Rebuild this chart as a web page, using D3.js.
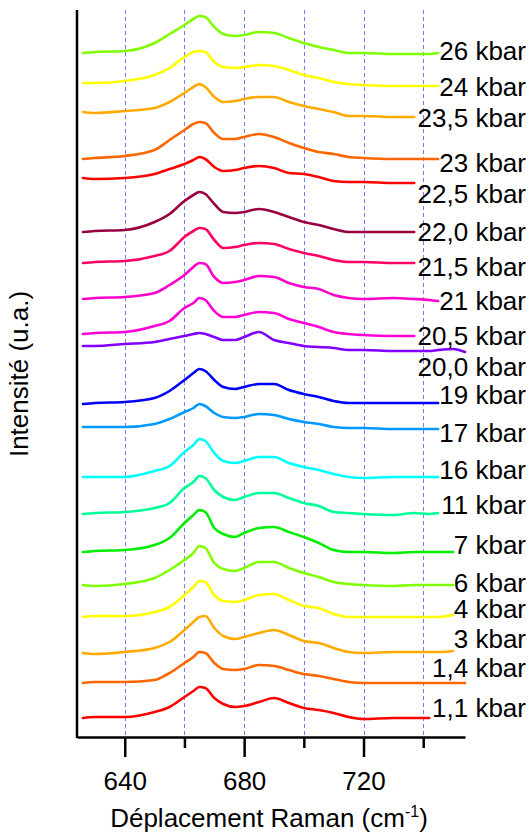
<!DOCTYPE html>
<html>
<head>
<meta charset="utf-8">
<script src="https://cdn.jsdelivr.net/npm/d3@7"></script>
<style>
  html, body { margin: 0; padding: 0; background: #fff; }
  svg { display: block; }
  text { font-family: "Liberation Sans", Arial, sans-serif; fill: #000; }
</style>
</head>
<body>
<svg id="chart" width="531" height="834"></svg>
<script>
// Raman shift sampling (cm-1)
const wavenumbers = [626, 630, 640, 650, 655, 660, 663, 665, 667, 670, 673, 677, 680, 685, 690, 695, 700, 705, 710, 715, 720, 730, 737, 742, 745, 750, 754];

// Pressure labels, top trace first
const pressures = ["26 kbar", "24 kbar", "23,5 kbar", "23 kbar", "22,5 kbar", "22,0 kbar", "21,5 kbar", "21 kbar", "20,5 kbar", "20,0 kbar",
                   "19 kbar", "17 kbar", "16 kbar", "11 kbar", "7 kbar", "6 kbar", "4 kbar", "3 kbar", "1,4 kbar", "1,1 kbar"];

// Stacked spectra (intensity, arbitrary units, offsets included); null = not recorded
const spec26  = [684, 685, 686, 694, 703, 712, 718, 721, 720, 710, 703, 701, 702, 705, 704, 699, 694, 690, 687, 684, 684, 683, 683, 683, 684, null, null];
const spec24  = [654, 654, 656, 662, 669, 680, 685, 686, 685, 675, 670, 669, 670, 672, 671, 667, 662, 659, 655, 653, 652, 651, 651, 651, 651, null, null];
const spec235 = [625, 624, 626, 629, 635, 644, 650, 653, 650, 640, 635, 636, 638, 640, 640, 635, 631, 628, 625, 621, 621, 620, 620, null, null, null, null];
const spec23  = [578, 579, 581, 587, 597, 607, 613, 615, 614, 604, 598, 598, 600, 603, 600, 594, 589, 585, 583, 580, 579, 578, 578, 578, 578, null, null];
const spec225 = [559, 558, 559, 563, 568, 573, 577, 580, 578, 570, 566, 567, 569, 571, 569, 564, 563, 560, 556, 555, 555, 554, 554, null, null, null, null];
const spec220 = [505, 506, 507, 515, 523, 536, 542, 545, 543, 533, 525, 524, 525, 528, 525, 520, 515, 512, 508, 505, 505, 505, 505, null, null, null, null];
const spec215 = [474, 475, 476, 481, 486, 500, 506, 509, 508, 497, 489, 490, 492, 494, 493, 488, 484, 481, 477, 475, 475, 474, 474, null, null, null, null];
const spec21  = [438, 439, 440, 444, 452, 462, 470, 474, 473, 460, 454, 455, 457, 461, 460, 454, 450, 448, 442, 439, 438, 439, 438, 437, 436, null, null];
const spec205 = [403, 404, 405, 411, 416, 429, 434, 439, 437, 426, 420, 420, 422, 425, 424, 418, 414, 410, 405, 403, 402, 401, 401, null, null, null, null];
const spec200 = [391, 391, 393, 395, 398, 401, 403, 404, 403, 400, 397, 397, 400, 405, 397, 394, 391, 390, 389, 387, 387, 386, 386, 386, 387, 388, 385];
const spec19  = [333, 334, 335, 339, 346, 357, 364, 368, 366, 357, 350, 348, 350, 353, 353, 347, 343, 340, 336, 334, 334, 334, 334, 334, 334, null, null];
const spec17  = [310, 310, 310, 313, 318, 325, 329, 333, 331, 324, 320, 319, 320, 323, 322, 318, 315, 313, 310, 309, 309, 308, 308, 308, 308, null, null];
const spec16  = [260, 260, 260, 266, 271, 285, 292, 298, 296, 284, 276, 274, 276, 280, 280, 274, 270, 267, 263, 260, 259, 260, 260, 260, 260, null, null];
const spec11  = [223, 224, 225, 229, 234, 249, 255, 261, 259, 247, 240, 237, 240, 244, 244, 239, 234, 231, 225, 224, 223, 222, 224, 223, 224, null, null];
const spec7   = [185, 186, 187, 192, 199, 214, 222, 227, 225, 209, 203, 200, 204, 209, 210, 205, 200, 194, 187, 185, 185, 184, 185, 185, 185, 185, null];
const spec6   = [152, 151, 153, 159, 167, 177, 184, 191, 189, 174, 168, 166, 169, 175, 175, 169, 164, 160, 155, 153, 152, 151, 152, 152, 152, 152, null];
const spec4   = [120, 121, 121, 125, 130, 142, 150, 156, 155, 142, 136, 135, 137, 142, 143, 137, 131, 129, 123, 120, 120, 120, 120, 120, 120, 122, null];
const spec3   = [84, 83, 85, 89, 95, 107, 115, 120, 121, 109, 101, 98, 100, 104, 107, 102, 96, 94, 89, 85, 84, 85, 85, 85, 85, 86, null];
const spec14  = [54, 55, 55, 57, 64, 74, 80, 85, 84, 74, 68, 67, 68, 72, 71, 67, 63, 61, 58, 55, 54, 54, 54, 54, 54, 54, 54];
const spec11b = [19, 20, 20, 25, 30, 40, 46, 50, 49, 39, 33, 30, 31, 35, 39, 34, 29, 27, 24, 20, 18, 19, 19, 19, null, null, null];

const spectra = [spec26, spec24, spec235, spec23, spec225, spec220, spec215, spec21, spec205, spec200,
                 spec19, spec17, spec16, spec11, spec7, spec6, spec4, spec3, spec14, spec11b];

const colors = ["#80ff00", "#ffff00", "#ffaa00", "#ff6600", "#ff0000", "#990040", "#ff0066", "#ff00cc", "#ff00d8", "#8000ff",
                "#0000ff", "#0099ff", "#00ffff", "#00ff99", "#00ee00", "#80ff00", "#ffff00", "#ffaa00", "#ff6600", "#ff0000"];

const majorTicks = [640, 680, 720];
const minorTicks = [660, 700, 740];

// Vertical nudge (px) of each pressure label relative to the end of its trace
const labelNudge = [-2, 1, 1, 3.5, 11, 0, 4, 0, 0, 15, -8, 4, -7, -8, -7, -2.5, -6, -12, -15, -10];

const svg = d3.select("#chart");

const x = d3.scaleLinear().domain([624, 754]).range([77, 465]);
const y = d3.scaleLinear().domain([0, 727]).range([737, 10]);

// dashed vertical guides
svg.append("g")
  .selectAll("line")
  .data(majorTicks.concat(minorTicks))
  .join("line")
  .attr("x1", d => Math.round(x(d)) + 0.5)
  .attr("x2", d => Math.round(x(d)) + 0.5)
  .attr("y1", y(727))
  .attr("y2", y(0))
  .attr("stroke", "#7a7aff")
  .attr("stroke-width", 1)
  .attr("stroke-dasharray", "4,3");

// spectra
const line = d3.line()
  .defined(d => d[1] !== null)
  .x(d => x(d[0]))
  .y(d => y(d[1]))
  .curve(d3.curveMonotoneX);

svg.append("g")
  .selectAll("path")
  .data(spectra)
  .join("path")
  .attr("d", s => line(s.map((v, i) => [wavenumbers[i], v])))
  .attr("fill", "none")
  .attr("stroke", (s, i) => colors[i])
  .attr("stroke-width", 2.6)
  .attr("stroke-linejoin", "round")
  .attr("stroke-linecap", "round");

// pressure labels
svg.append("g")
  .selectAll("text")
  .data(spectra)
  .join("text")
  .attr("x", 526)
  .attr("y", (s, i) => {
    const last = s.filter(v => v !== null).pop();
    return y(last) + labelNudge[i] + 9.3;
  })
  .attr("text-anchor", "end")
  .attr("font-size", 26)
  .text((s, i) => pressures[i]);

// x axis: labelled major ticks, short minor ticks
const axisMajor = d3.axisBottom(x).tickValues(majorTicks).tickSize(20).tickSizeOuter(0).tickPadding(15).tickFormat(d3.format("d"));
const axisMinor = d3.axisBottom(x).tickValues(minorTicks).tickSize(11).tickSizeOuter(0).tickFormat("");

const gx = svg.append("g").attr("transform", `translate(0,${y(0)})`).call(axisMajor);
gx.select(".domain").attr("stroke", "#000").attr("stroke-width", 2.5);
gx.selectAll(".tick line").attr("stroke", "#000").attr("stroke-width", 2.5);
gx.selectAll(".tick text").attr("font-size", 26).attr("font-family", "Liberation Sans, Arial, sans-serif").attr("fill", "#000");

const gm = svg.append("g").attr("transform", `translate(0,${y(0)})`).call(axisMinor);
gm.select(".domain").remove();
gm.selectAll(".tick line").attr("stroke", "#000").attr("stroke-width", 2.5);

// y axis line (no ticks)
svg.append("line")
  .attr("x1", x(624)).attr("x2", x(624))
  .attr("y1", y(727)).attr("y2", y(0) + 1)
  .attr("stroke", "#000").attr("stroke-width", 2.5);

// axis titles
svg.append("text")
  .attr("transform", `translate(28,374) rotate(-90)`)
  .attr("text-anchor", "middle")
  .attr("font-size", 26)
  .text("Intensité (u.a.)");

const xt = svg.append("text")
  .attr("x", 269)
  .attr("y", 827)
  .attr("text-anchor", "middle")
  .attr("font-size", 26);
xt.append("tspan").text("Déplacement Raman (cm");
xt.append("tspan").attr("font-size", 16).attr("dy", -10).text("-1");
xt.append("tspan").attr("dy", 10).text(")");
</script>
</body>
</html>
